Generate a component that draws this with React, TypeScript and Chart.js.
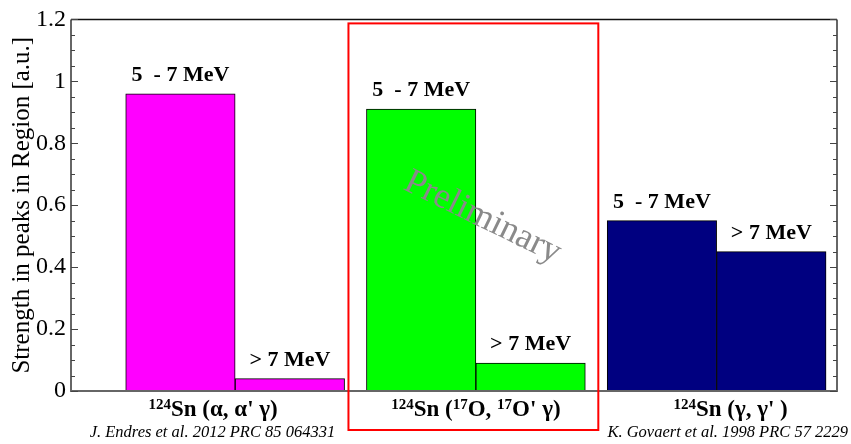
import React, { useEffect, useRef } from "react";
import { Chart, registerables } from "chart.js";

Chart.register(...registerables);

// Bar positions on the x axis (bar centres, one unit wide) and strengths
const barCenters = [1.0, 2.0, 3.2, 4.2, 5.4, 6.4];
const strengths = [0.96, 0.04, 0.91, 0.09, 0.55, 0.45];
const barColors = ["#ff00ff", "#ff00ff", "#00ff00", "#00ff00", "#000080", "#000080"];
const energyLabels = ["5  - 7 MeV", "> 7 MeV", "5  - 7 MeV", "> 7 MeV", "5  - 7 MeV", "> 7 MeV"];
// ^{...} marks a superscript
const reactionLabels = ["^{124}Sn (α, α' γ)", "^{124}Sn (^{17}O, ^{17}O' γ)", "^{124}Sn (γ, γ' )"];
const references = ["J. Endres et al. 2012 PRC 85 064331", "K. Govaert et al. 1998 PRC 57 2229"];
const yTitle = "Strength in peaks in Region [a.u.]";
const watermark = "Preliminary";

const SERIF = '"Liberation Serif", "Times New Roman", serif';

type Seg = { t: string; sup: boolean };
function parseRich(s: string): Seg[] {
  const out: Seg[] = [];
  const re = /\^\{([^}]*)\}|([^^]+)/g;
  let m: RegExpExecArray | null;
  while ((m = re.exec(s))) {
    if (m[1] !== undefined) out.push({ t: m[1], sup: true });
    else out.push({ t: m[2], sup: false });
  }
  return out;
}

const BAR_FONT = `bold 22px ${SERIF}`;
const MAIN_FONT = `bold 23px ${SERIF}`;
const SUP_FONT = `bold 15px ${SERIF}`;

function drawRich(ctx: CanvasRenderingContext2D, text: string, cx: number, baseline: number) {
  const segs = parseRich(text);
  let total = 0;
  const widths = segs.map((s) => {
    ctx.font = s.sup ? SUP_FONT : MAIN_FONT;
    const w = ctx.measureText(s.t).width;
    total += w;
    return w;
  });
  let px = cx - total / 2;
  ctx.textAlign = "left";
  ctx.textBaseline = "alphabetic";
  segs.forEach((s, i) => {
    ctx.font = s.sup ? SUP_FONT : MAIN_FONT;
    ctx.fillText(s.t, px, s.sup ? baseline - 7 : baseline);
    px += widths[i];
  });
}

// shifts of the reaction labels from their group centres
const reactionShift = [-22, 0, 14];

const decorPlugin = {
  id: "decor",
  afterDatasetsDraw(chart: any) {
    const { ctx, chartArea: a, scales } = chart;
    const x = scales.x;
    const y = scales.y;
    ctx.save();

    // frame
    ctx.lineWidth = 2;
    ctx.strokeStyle = "#666";
    ctx.beginPath();
    ctx.moveTo(a.left, a.top);
    ctx.lineTo(a.left, a.bottom);
    ctx.lineTo(a.right, a.bottom);
    ctx.lineTo(a.right, a.top);
    ctx.stroke();
    ctx.lineWidth = 1.5;
    ctx.strokeStyle = "#111";
    ctx.beginPath();
    ctx.moveTo(a.left, a.top);
    ctx.lineTo(a.right, a.top);
    ctx.stroke();

    // inward tick marks on both vertical axes
    ctx.lineWidth = 1;
    ctx.strokeStyle = "#444";
    y.ticks.forEach((t: any) => {
      const k = Math.round(t.value * 20);
      const len = k % 4 === 0 ? 7 : 4;
      const py = Math.round(y.getPixelForValue(t.value)) + 0.5;
      ctx.beginPath();
      ctx.moveTo(a.left, py);
      ctx.lineTo(a.left + len, py);
      ctx.moveTo(a.right, py);
      ctx.lineTo(a.right - len, py);
      ctx.stroke();
    });

    // energy labels above bars
    ctx.fillStyle = "#000";
    ctx.font = BAR_FONT;
    ctx.textAlign = "center";
    ctx.textBaseline = "alphabetic";
    const meta = chart.getDatasetMeta(0);
    meta.data.forEach((el: any, i: number) => {
      ctx.fillText(energyLabels[i], el.x, el.y - 13);
    });

    // watermark
    ctx.save();
    ctx.translate(x.getPixelForValue(3.76), y.getPixelForValue(0.56));
    ctx.rotate((26 * Math.PI) / 180);
    ctx.font = `36px ${SERIF}`;
    ctx.fillStyle = "#8a8a8a";
    ctx.textAlign = "center";
    ctx.textBaseline = "middle";
    ctx.fillText(watermark, 0, 0);
    ctx.restore();

    // reaction labels under each pair of bars
    ctx.fillStyle = "#000";
    reactionLabels.forEach((lab, g) => {
      const c = (barCenters[2 * g] + barCenters[2 * g + 1]) / 2;
      drawRich(ctx, lab, x.getPixelForValue(c) + reactionShift[g], a.bottom + 25);
    });

    // references
    ctx.font = `italic 16.5px ${SERIF}`;
    ctx.textBaseline = "alphabetic";
    ctx.textAlign = "left";
    ctx.fillText(references[0], x.getPixelForValue(barCenters[0] - 0.5) - 36, a.bottom + 46);
    ctx.textAlign = "right";
    ctx.fillText(references[1], a.right + 11, a.bottom + 46);

    // highlight box around the new measurement
    ctx.strokeStyle = "#ff0000";
    ctx.lineWidth = 2;
    const bl = x.getPixelForValue(barCenters[2] - 0.5) - 18;
    const br = x.getPixelForValue(barCenters[3] + 0.5) + 13;
    ctx.strokeRect(bl, a.top + 4, br - bl, a.bottom + 39 - (a.top + 4));

    ctx.restore();
  },
};

export default function App() {
  const ref = useRef<HTMLCanvasElement | null>(null);
  useEffect(() => {
    const canvas = ref.current;
    if (!canvas) return;
    const chart = new Chart(canvas, {
      type: "bar",
      data: {
        datasets: [
          {
            data: barCenters.map((c, i) => ({ x: c, y: strengths[i] })),
            backgroundColor: barColors,
            borderColor: "#000",
            borderWidth: 1,
            borderSkipped: false,
            barPercentage: 1,
            categoryPercentage: 1,
          },
        ],
      },
      options: {
        responsive: false,
        animation: false,
        layout: { padding: { left: 0, top: 16, right: 14, bottom: 53 } },
        plugins: { legend: { display: false }, tooltip: { enabled: false } },
        scales: {
          x: {
            type: "linear",
            min: 0,
            max: 7,
            offset: false,
            display: false,
            ticks: { stepSize: 1 },
          },
          y: {
            min: 0,
            max: 1.2,
            grid: { display: false, drawTicks: false, tickLength: 0 },
            border: { display: false },
            afterFit: (s: any) => {
              s.width = 71;
            },
            ticks: {
              stepSize: 0.05,
              autoSkip: false,
              padding: 5,
              color: "#000",
              font: { family: SERIF, size: 24 },
              callback: (v: any) => {
                const k = Math.round(Number(v) * 20);
                return k % 4 === 0 ? String(k / 20) : "";
              },
            },
            title: {
              display: true,
              text: yTitle,
              color: "#000",
              font: { family: SERIF, size: 25 },
              padding: { top: 7, bottom: 0 },
            },
          },
        },
      },
      plugins: [decorPlugin],
    });
    return () => chart.destroy();
  }, []);
  return (
    <div style={{ position: "fixed", left: 0, top: 0, width: 851, height: 444, background: "#fff" }}>
      <canvas ref={ref} width={851} height={444} />
    </div>
  );
}
